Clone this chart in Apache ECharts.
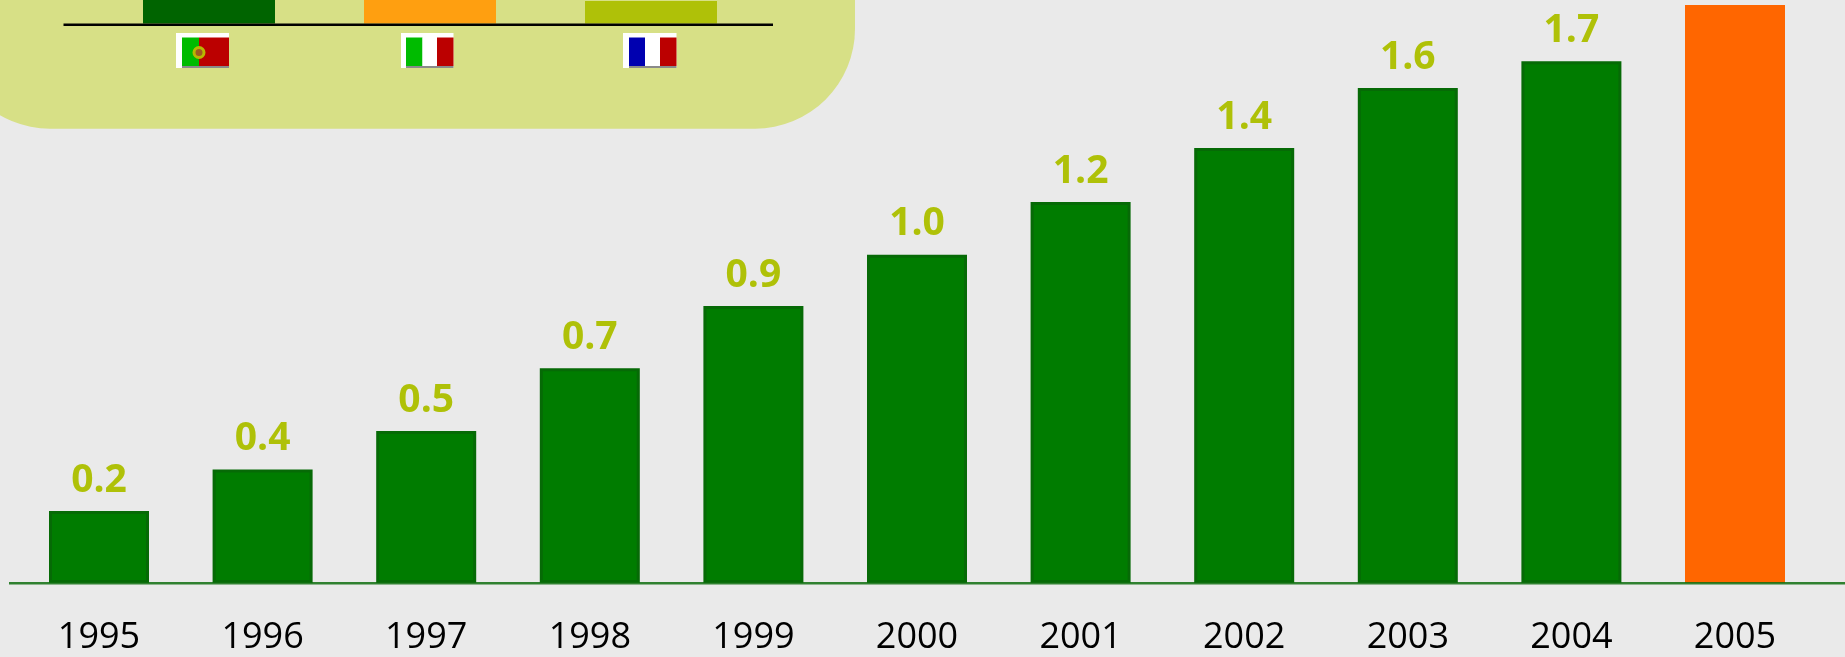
<!DOCTYPE html>
<html>
<head>
<meta charset="utf-8">
<title>chart</title>
<script src="https://cdn.jsdelivr.net/npm/echarts@6/dist/echarts.min.js"></script>
<style>
  html, body { margin: 0; padding: 0; background: #eaeaea; }
  #main { width: 1845px; height: 657px; }
</style>
</head>
<body>
<div id="main"></div>
<script>
var years = ['1995', '1996', '1997', '1998', '1999', '2000', '2001', '2002', '2003', '2004', '2005'];
var yearValues = [0.235, 0.37, 0.495, 0.70, 0.903, 1.07, 1.242, 1.418, 1.613, 1.70, 1.884];
// printed labels, 2005 has none in the picture
var yearLabels = ['0.2', '0.4', '0.5', '0.7', '0.9', '1.0', '1.2', '1.4', '1.6', '1.7', ''];

var countries = ['Portugal', 'Italia', 'France'];
var countryValues = [1, 1, 0.96];   // panel is cut off at the top of the picture
var countryColors = ['#006400', '#ff9f10', '#afc108'];

var myChart = echarts.init(document.getElementById('main'));

function stripe(x, y, w, h, color, z) {
  return { type: 'rect', z: z || 11, silent: true, shape: { x: x, y: y, width: w, height: h }, style: { fill: color } };
}

// little flags under the panel bars
function flag(x, x2, stripes) {
  var els = [stripe(x, 33, x2 - x, 35, '#ffffff', 10), stripe(stripes[0][0], 66, x2 - stripes[0][0], 2, '#8a8a8a', 10)];
  stripes.forEach(function (s) {
    els.push(stripe(s[0], 37.5, s[1] - s[0], 28.5, s[2]));
  });
  return els;
}

var flags = [].concat(
  flag(176, 229, [[182, 199, '#00bb00'], [199, 229, '#bb0000']]),
  flag(401, 453.5, [[406, 422.5, '#00bb00'], [422.5, 437, '#ffffff'], [437, 453.5, '#bb0000']]),
  flag(623, 676.5, [[629, 645, '#0000b0'], [645, 660, '#ffffff'], [660, 676.5, '#bb0000']])
);
flags.push({ type: 'circle', z: 12, silent: true, shape: { cx: 199, cy: 52.5, r: 5 }, style: { fill: '#a05a20', stroke: '#b8b800', lineWidth: 3 } });

myChart.setOption({
  backgroundColor: '#eaeaea',
  animation: false,
  grid: [
    { left: 17.2, width: 1799.6, top: 0, height: 583, outerBoundsMode: 'none' },
    { left: 98.5, width: 663, top: 0, height: 23.5, outerBoundsMode: 'none' }
  ],
  xAxis: [
    {
      type: 'category',
      gridIndex: 0,
      data: years,
      axisLine: { show: false },
      axisTick: { show: false },
      axisLabel: { color: '#000000', fontFamily: 'Open Sans', fontSize: 36, margin: 37, interval: 0 }
    },
    {
      type: 'category',
      gridIndex: 1,
      data: countries,
      axisLine: { show: false },
      axisTick: { show: false },
      axisLabel: { show: false }
    }
  ],
  yAxis: [
    { type: 'value', gridIndex: 0, min: 0, max: 1.9, show: false },
    { type: 'value', gridIndex: 1, min: 0, max: 1, show: false }
  ],
  series: [
    {
      type: 'bar',
      xAxisIndex: 0,
      yAxisIndex: 0,
      barWidth: 100,
      z: 3,
      data: yearValues.map(function (v, i) {
        if (i === yearValues.length - 1) {
          return { value: v, itemStyle: { color: '#ff6600', borderWidth: 0 } };
        }
        return v;
      }),
      itemStyle: { color: '#007c00', borderColor: '#066a06', borderWidth: 3 },
      label: {
        show: true,
        position: 'top',
        distance: 11,
        color: '#afc108',
        fontFamily: 'Open Sans',
        fontWeight: 'bold',
        fontSize: 39,
        formatter: function (p) { return yearLabels[p.dataIndex]; }
      }
    },
    {
      type: 'bar',
      xAxisIndex: 1,
      yAxisIndex: 1,
      barWidth: 132,
      z: 3,
      data: countryValues.map(function (v, i) {
        return { value: v, itemStyle: { color: countryColors[i] } };
      })
    }
  ],
  graphic: {
    elements: [
      // panel behind the small bars
      { type: 'rect', z: 0, silent: true, shape: { x: -50, y: -120, width: 905, height: 248.7, r: 100 }, style: { fill: '#d7e086' } },
      // panel axis line
      { type: 'line', z: 10, silent: true, shape: { x1: 63.5, y1: 24.7, x2: 773, y2: 24.7 }, style: { stroke: '#000000', lineWidth: 2.4 } },
      // baseline of the main chart, runs past the grid both ways
      { type: 'line', z: 10, silent: true, shape: { x1: 9, y1: 583.3, x2: 1845, y2: 583.3 }, style: { stroke: '#0f6f0f', lineWidth: 2.6, opacity: 0.85 } }
    ].concat(flags)
  }
});
</script>
</body>
</html>
